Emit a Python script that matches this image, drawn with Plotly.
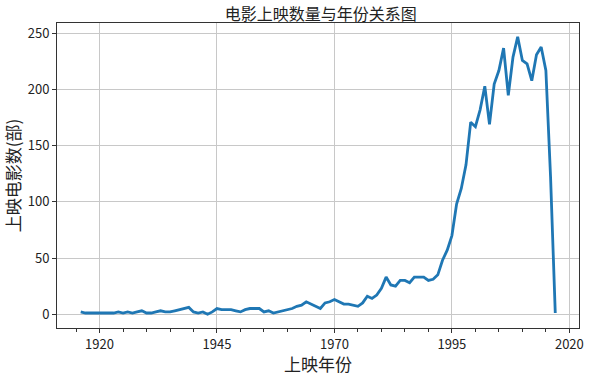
import plotly.graph_objects as go

years = list(range(1916, 2018))
counts = [
    2, 1, 1, 1, 1, 1, 1, 1, 2, 1,        # 1916-1925
    2, 1, 2, 3, 1, 1, 2, 3, 2, 2,        # 1926-1935
    3, 4, 5, 6, 2, 1, 2, 0, 2, 5,        # 1936-1945
    4, 4, 4, 3, 2, 4, 5, 5, 5, 2,        # 1946-1955
    3, 1, 2, 3, 4, 5, 7, 8, 11, 9,       # 1956-1965
    7, 5, 10, 11, 13, 11, 9, 9, 8, 7,    # 1966-1975
    10, 16, 14, 17, 23, 33, 26, 25, 30, 30,  # 1976-1985
    28, 33, 33, 33, 30, 31, 35, 48, 57, 70,  # 1986-1995
    98, 112, 133, 171, 167, 182, 203, 169, 205, 217,  # 1996-2005
    237, 195, 229, 247, 226, 223, 208, 231, 238, 217,  # 2006-2015
    122, 1,                               # 2016-2017
]

title_text = "电影上映数量与年份关系图"
x_title = "上映年份"
y_title = "上映电影数(部)"

font_family = "Noto Sans CJK SC, DejaVu Sans, sans-serif"

fig = go.Figure()
fig.add_trace(go.Scatter(
    x=years, y=counts, mode="lines",
    line=dict(color="#1f77b4", width=2.8),
    showlegend=False,
))

axis_common = dict(
    showline=True, linecolor="#333333", linewidth=1, mirror=True,
    showgrid=True, gridcolor="#c8c8c8", gridwidth=1,
    ticks="outside", ticklen=4, tickcolor="#333333",
    zeroline=False,
    tickfont=dict(size=13, color="#222222", family=font_family),
)

fig.update_layout(
    width=594, height=376,
    margin=dict(l=57, r=10, t=23, b=45),
    paper_bgcolor="white", plot_bgcolor="white",
    font=dict(family=font_family, color="#222222"),
    title=dict(text=title_text, x=0.54, xanchor="center", y=0.962, yanchor="middle",
               font=dict(size=16, color="#222222")),
    xaxis=dict(
        **axis_common,
        range=[1910.95, 2022.05],
        tick0=1920, dtick=25,
        minor=dict(dtick=5, tick0=1920, ticks="outside", ticklen=2.5, tickcolor="#333333", showgrid=False),
        title=dict(text=x_title, font=dict(size=17), standoff=2),
    ),
    yaxis=dict(
        **axis_common,
        range=[-12.35, 259.35],
        tick0=0, dtick=50,
        title=dict(text=y_title, font=dict(size=17), standoff=6),
    ),
)

fig.write_html("out.html")
